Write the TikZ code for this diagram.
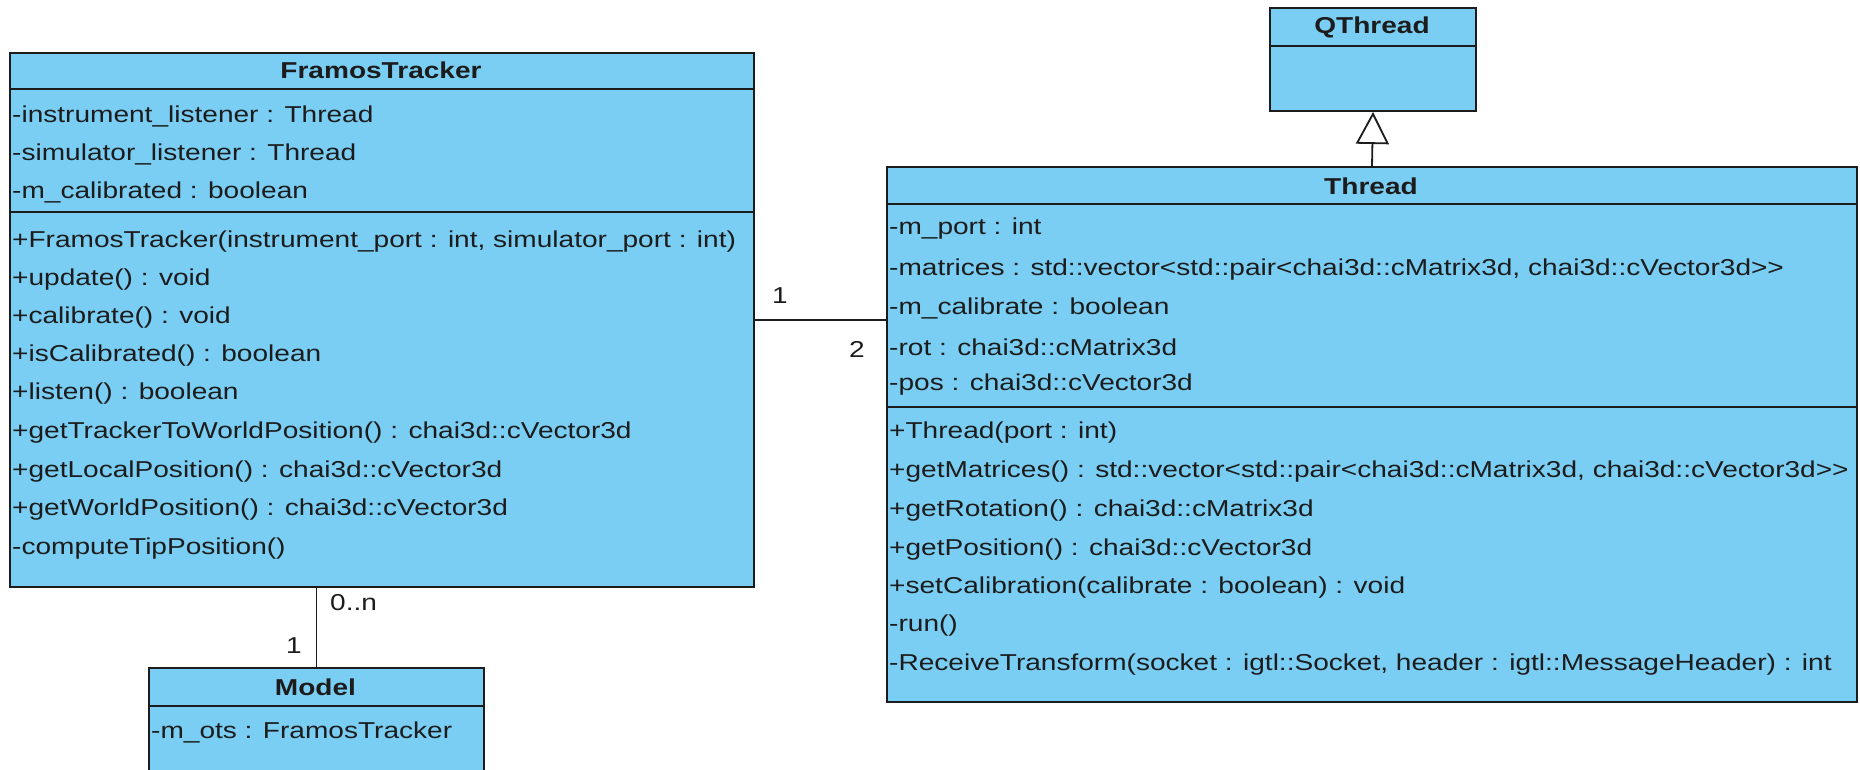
\documentclass[tikz,border=0pt]{standalone}
\usepackage{fontspec}
\setmainfont[FakeStretch=1.22]{Liberation Sans}
\usepackage{tikz}
\usetikzlibrary{arrows.meta,positioning}
\usepackage{xcolor}
\definecolor{umlblue}{RGB}{122,206,244}
\definecolor{umlline}{RGB}{28,28,28}
\tikzstyle{classbox} = [rectangle, anchor=north west, inner sep=0pt, draw=umlline, fill=umlblue, line width=2pt]
\tikzstyle{classname} = [inner sep=0pt, font=\bfseries\fontsize{23}{23}\selectfont, text=umlline]
\tikzstyle{member} = [anchor=west, inner sep=0pt, font=\fontsize{23}{23}\selectfont, text=umlline]
\tikzstyle{divider} = [draw=umlline, line width=1.6pt]
\tikzstyle{assoc} = [draw=umlline, line width=1.8pt]
\tikzstyle{inherit} = [draw=umlline, line width=1.8pt, -{Triangle[open, length=32pt, width=33pt, line width=1.8pt]}]
\tikzstyle{mult} = [inner sep=0pt, font=\fontsize{23}{23}\selectfont, text=umlline]

\begin{document}
\begin{tikzpicture}[x=1pt,y=-1pt]
\useasboundingbox (0,0) rectangle (1860,769);
\clip (0,0) rectangle (1860,769);

% Class boxes
\node[classbox, minimum width=744pt, minimum height=534pt] (tracker) at (9,52) {};
\node[classbox, minimum width=206pt, minimum height=103pt] (qthread) at (1269,7) {};
\node[classbox, minimum width=970pt, minimum height=535pt] (thread) at (886,166) {};
\node[classbox, minimum width=335pt, minimum height=123pt] (model) at (148,667) {};

% Compartment lines
\draw[divider] (tracker.west |- 0,89) -- (tracker.east |- 0,89);
\draw[divider] (tracker.west |- 0,212) -- (tracker.east |- 0,212);
\draw[divider] (qthread.west |- 0,46) -- (qthread.east |- 0,46);
\draw[divider] (thread.west |- 0,204) -- (thread.east |- 0,204);
\draw[divider] (thread.west |- 0,407) -- (thread.east |- 0,407);
\draw[divider] (model.west |- 0,706) -- (model.east |- 0,706);

% Class names
\node[classname] (trackername) at (381,70) {FramosTracker};
\node[classname] (qthreadname) at (1372,27) {QThread};
\node[classname] (threadname) at (1371,186) {Thread};
\node[classname] (modelname) at (315.5,687) {Model};

% FramosTracker members
\node[member] (ta1) at (12,116) {-instrument\_listener : Thread};
\node[member] (ta2) at (12,154) {-simulator\_listener : Thread};
\node[member] (ta3) at (12,192) {-m\_calibrated : boolean};
\node[member] (to1) at (12,242) {+FramosTracker(instrument\_port : int, simulator\_port : int)};
\node[member] (to2) at (12,280) {+update() : void};
\node[member] (to3) at (12,318) {+calibrate() : void};
\node[member] (to4) at (12,356) {+isCalibrated() : boolean};
\node[member] (to5) at (12,394) {+listen() : boolean};
\node[member] (to6) at (12,433) {+getTrackerToWorldPosition() : chai3d::cVector3d};
\node[member] (to7) at (12,472) {+getLocalPosition() : chai3d::cVector3d};
\node[member] (to8) at (12,510) {+getWorldPosition() : chai3d::cVector3d};
\node[member] (to9) at (12,549) {-computeTipPosition()};

% Thread members
\node[member] (ha1) at (889,229) {-m\_port : int};
\node[member] (ha2) at (889,270) {-matrices : std::vector<std::pair<chai3d::cMatrix3d, chai3d::cVector3d>{}>};
\node[member] (ha3) at (889,308) {-m\_calibrate : boolean};
\node[member] (ha4) at (889,347) {-rot : chai3d::cMatrix3d};
\node[member] (ha5) at (889,385) {-pos : chai3d::cVector3d};
\node[member] (ho1) at (889,433) {+Thread(port : int)};
\node[member] (ho2) at (889,472) {+getMatrices() : std::vector<std::pair<chai3d::cMatrix3d, chai3d::cVector3d>{}>};
\node[member] (ho3) at (889,511) {+getRotation() : chai3d::cMatrix3d};
\node[member] (ho4) at (889,550) {+getPosition() : chai3d::cVector3d};
\node[member] (ho5) at (889,588) {+setCalibration(calibrate : boolean) : void};
\node[member] (ho6) at (889,626) {-run()};
\node[member] (ho7) at (889,665) {-ReceiveTransform(socket : igtl::Socket, header : igtl::MessageHeader) : int};

% Model members
\node[member] (ma1) at (151,732) {-m\_ots : FramosTracker};

% Connectors
\draw[inherit] (thread.north) -- (qthread.south);
\draw[assoc] (tracker.east) -- (tracker.east -| thread.west);
\draw[assoc] (model.north) -- (model.north |- tracker.south);

% Multiplicities
\node[mult] (m1) at (780,296) {1};
\node[mult] (m2) at (857,349) {2};
\node[mult, anchor=west] (m3) at (330,603) {0..n};
\node[mult] (m4) at (294,646) {1};
\end{tikzpicture}
\end{document}
